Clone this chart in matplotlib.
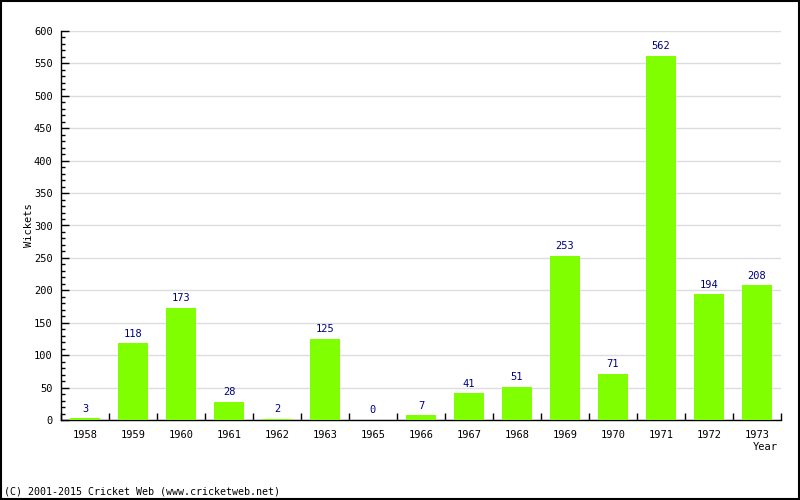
import matplotlib
matplotlib.use("Agg")
import matplotlib.pyplot as plt
from matplotlib.ticker import MultipleLocator, FixedLocator
from matplotlib.patches import Rectangle

years = ["1958", "1959", "1960", "1961", "1962", "1963", "1965", "1966",
         "1967", "1968", "1969", "1970", "1971", "1972", "1973"]
wickets = [3, 118, 173, 28, 2, 125, 0, 7, 41, 51, 253, 71, 562, 194, 208]

plt.rcParams['font.family'] = ['DejaVu Sans Mono']

fig = plt.figure(figsize=(8, 5), dpi=100)
ax = fig.add_axes([61 / 800, 80 / 500, 720 / 800, 389 / 500])

x = list(range(len(years)))
ax.bar(x, wickets, width=0.62, color="#80ff00", zorder=3)
for xi, v in zip(x, wickets):
    ax.text(xi, v + 7, str(v), ha="center", va="bottom", color="#000080",
            fontsize=7.5, zorder=4)

ax.set_xlim(-0.5, len(years) - 0.5)
ax.set_ylim(0, 600)
ax.yaxis.set_major_locator(MultipleLocator(50))
ax.yaxis.set_minor_locator(MultipleLocator(10))
ax.set_xticks(x)
ax.set_xticklabels(years)
ax.xaxis.set_minor_locator(FixedLocator([i + 0.5 for i in range(-1, len(years))]))
ax.tick_params(axis="x", which="major", length=0, labelsize=7.5, pad=7)
ax.tick_params(axis="x", which="minor", direction="in", length=5, width=1)
ax.tick_params(axis="y", which="major", direction="in", length=6, width=1,
               labelsize=7.5, pad=6)
ax.tick_params(axis="y", which="minor", direction="in", length=3, width=1)
ax.grid(axis="y", which="major", color="#dddddd", linewidth=1, zorder=0)

for side in ("top", "right"):
    ax.spines[side].set_visible(False)
for side in ("left", "bottom"):
    ax.spines[side].set_linewidth(1)

ax.set_ylabel("Wickets", fontsize=7.5, labelpad=0)
fig.text(778 / 800, 1 - 447 / 500, "Year", ha="right", va="center", fontsize=7.5)
fig.text(4 / 800, 1 - 492 / 500, "(C) 2001-2015 Cricket Web (www.cricketweb.net)",
         ha="left", va="center", fontsize=7.2)

fig.patches.append(Rectangle((0.0008, 0.0012), 0.998, 0.997, transform=fig.transFigure,
                             fill=False, edgecolor="black", linewidth=1.5))

fig.savefig("out.png", dpi=100)
